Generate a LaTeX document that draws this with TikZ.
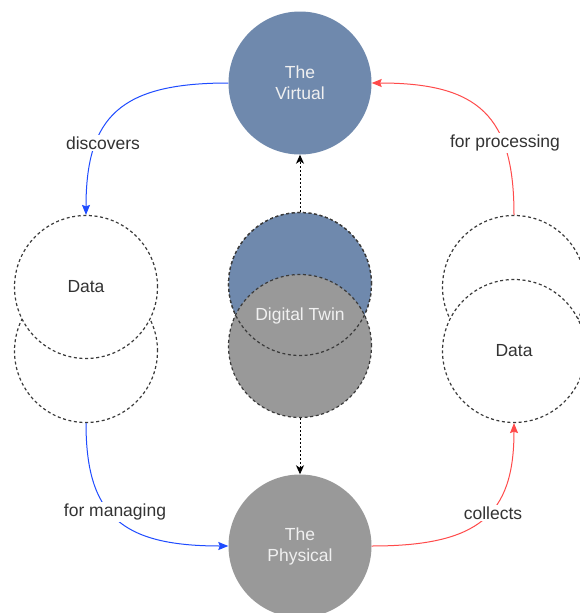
\documentclass[tikz,border=0pt]{standalone}
\usepackage{fontspec}
\setmainfont{Liberation Sans}
\usetikzlibrary{arrows.meta}

\definecolor{virtualblue}{HTML}{6F89AD}
\definecolor{physgrey}{HTML}{999999}
\definecolor{linkblue}{HTML}{1E4BFF}
\definecolor{linkred}{HTML}{FF4A4A}
\definecolor{outline}{HTML}{3A3A3A}
\definecolor{labeltext}{HTML}{333333}

\tikzset{
  txt/.style={font=\fontsize{17.5}{21}\selectfont},
  bigcircle/.style={circle, inner sep=0pt, minimum size=143pt, txt, align=center},
  solidnode/.style={bigcircle, text=white!94!black},
  dashedring/.style={draw=outline, line width=1.2pt, dash pattern=on 3pt off 2.6pt},
  datanode/.style={bigcircle, dashedring, fill=white, text=labeltext},
  linklabel/.style={txt, text=labeltext, fill=white, inner sep=2pt},
  tip/.style={-{Stealth[length=10pt,width=8pt,inset=1.5pt]}},
  bluelink/.style={tip, draw=linkblue, line width=1pt},
  redlink/.style={tip, draw=linkred, line width=1pt},
  twinlink/.style={-{Stealth[length=9pt,width=8pt,inset=2.5pt]}, draw=black, line width=1pt, dash pattern=on 2pt off 2pt}
}

\begin{document}
\begin{tikzpicture}[x=1pt,y=-1pt]
  \clip (0,0) rectangle (580,613);
  \fill[white] (0,0) rectangle (580,613);

  % the two end states
  \node[solidnode, fill=virtualblue] (virtual) at (300,83) {The\\Virtual};
  \node[solidnode, fill=physgrey] (physical) at (300,546) {The\\Physical};

  % left data stack (upper disc in front)
  \node[datanode] (dataLlow) at (86,351) {};
  \node[datanode] (dataL) at (86,287) {Data};

  % right data stack (lower disc in front)
  \node[datanode] (dataRup) at (514,287) {};
  \node[datanode] (dataR) at (514,351) {Data};

  % digital twin: virtual half behind, physical half in front, outline of the virtual half on top
  \node[bigcircle, fill=virtualblue, dashedring] (twinV) at (300,284) {};
  \node[bigcircle, fill=physgrey, dashedring] (twinP) at (300,346) {};
  \draw[dashedring] (twinV) circle[radius=71.5pt];
  \node[txt, text=white!94!black] (twinlabel) at (300,316) {Digital Twin};

  % twin links
  \draw[twinlink] (twinV.north) -- (virtual.south);
  \draw[twinlink] (twinP.south) -- (physical.north);

  % blue loop on the left
  \draw[bluelink] (virtual.west) .. controls (121,83) and (86,116) .. (dataL.north);
  \draw[bluelink] (dataLlow.south) .. controls (86,515) and (121,546) .. (physical.west);

  % red loop on the right
  \draw[redlink] (physical.east) .. controls (479,546) and (514,515) .. (dataR.south);
  \draw[redlink] (dataRup.north) .. controls (514,116) and (479,83) .. (virtual.east);

  % link labels
  \node[linklabel] (lbldisc) at (103,143) {discovers};
  \node[linklabel] (lblmanage) at (115,512) {for managing};
  \node[linklabel] (lblcollect) at (493,513) {collects};
  \node[linklabel] (lblproc) at (505,143) {for processing};
\end{tikzpicture}
\end{document}
